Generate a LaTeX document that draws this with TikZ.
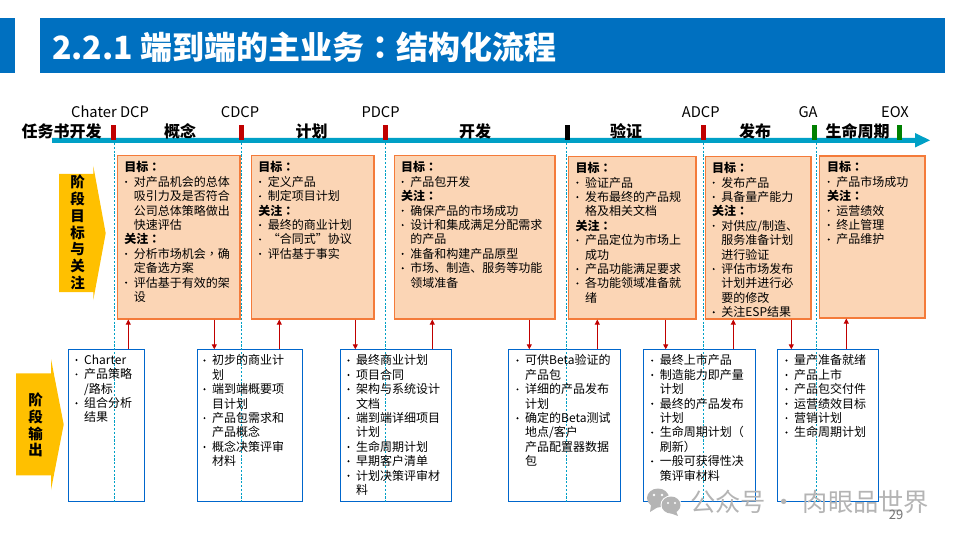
\documentclass[tikz,border=0pt]{standalone}
\usepackage{fontspec}
\setmainfont{Noto Sans CJK SC}
\newfontfamily\tcfont{Noto Sans CJK TC}
\usetikzlibrary{arrows.meta}
\definecolor{headblue}{HTML}{0070C0}
\definecolor{lineteal}{HTML}{00A0C6}
\definecolor{arrowyellow}{HTML}{FFC000}
\definecolor{goalfill}{HTML}{FBD5B5}
\definecolor{goalline}{HTML}{F47B3A}
\definecolor{outline}{HTML}{0066CC}
\definecolor{darkred}{HTML}{C00000}
\definecolor{darkgreen}{HTML}{008000}
\definecolor{markgray}{HTML}{B4B4B4}
\newcommand{\bul}{\makebox[9.4pt][l]{\hspace{0.6pt}\raisebox{2.4pt}{\tikz[baseline=-2pt]\fill (0,0) circle (1.1pt);}}}
\newcommand{\cont}{\hspace*{9.4pt}}
\newcommand{\cln}{{\tcfont ：}}
\tikzset{
  goalbox/.style={draw=goalline, fill=goalfill, line width=1.6pt, anchor=north west, inner sep=0pt},
  outbox/.style={draw=outline, line width=0.9pt, anchor=north west, inner sep=0pt},
  boxtext/.style={anchor=north west, align=left, inner sep=0pt, font=\fontsize{12}{14.4}\selectfont},
  phase/.style={font=\fontsize{16}{16}\selectfont\bfseries, inner sep=0pt},
  gate/.style={font=\fontsize{14.7}{14.7}\selectfont, inner sep=0pt},
  sidetext/.style={align=center, inner sep=0pt, font=\fontsize{14.5}{16.8}\selectfont\bfseries},
  marker/.style={minimum width=5pt, minimum height=15pt, inner sep=0pt, anchor=north},
  redarrow/.style={darkred, line width=0.9pt, -{Triangle[length=5pt, width=5pt]}},
  gateline/.style={lineteal, line width=0.7pt, dash pattern=on 2.2pt off 1.6pt}
}
\begin{document}
\begin{tikzpicture}[x=1pt, y=-1pt]
  \useasboundingbox (0,0) rectangle (960,540);
  % header
  \fill[headblue] (0,18) rectangle (15,73);
  \node[fill=headblue, minimum width=905pt, minimum height=55pt, inner sep=0pt, anchor=north west] (head) at (40,18) {};
  \node[anchor=west, text=white, inner sep=0pt, font=\fontsize{32}{32}\selectfont\bfseries] (title) at (52,47) {2.2.1 端到端的主业务{\tcfont ：}结构化流程};
  % timeline
  \fill[lineteal] (52,137.8) -- (915,137.8) -- (915,133) -- (930,140.3) -- (915,147.5) -- (915,142.8) -- (52,142.8) -- cycle;
  % markers
  \foreach \n/\x/\c in {m1/113.3/darkred, m2/241.3/darkred, m3/385.7/darkred, m4/567.3/black, m5/703.3/darkred, m6/814.3/darkgreen, m7/899.3/darkgreen}
    \node[marker, fill=\c] (\n) at (\x,125) {};
  \foreach \t/\x in {Chater DCP/110, CDCP/240, PDCP/380.6, ADCP/700.7, GA/808, EOX/895}
    \node[gate] at (\x,111.7) {\t};
  \foreach \t/\x in {任务书开发/61.5, 概念/180, 计划/311.7, 开发/475, 验证/626, 发布/755, 生命周期/857.7}
    \node[phase] at (\x,131.7) {\t};
  % side arrows
  \fill[arrowyellow] (59,174) -- (93.3,174) -- (93.3,166) -- (105.7,233.3) -- (93.3,300) -- (93.3,292) -- (59,292) -- cycle;
  \node[sidetext] (side1) at (77.7,232.5) {阶\\段\\目\\标\\与\\关\\注};
  \fill[arrowyellow] (16,373.3) -- (51,373.3) -- (51,359) -- (63.7,424.5) -- (51,490) -- (51,475.3) -- (16,475.3) -- cycle;
  \node[sidetext] (side2) at (35.7,425) {阶\\段\\输\\出};
  % goal boxes
  \foreach \n/\x/\y/\w/\h in {g1/116.7/154.7/122.6/163.3, g2/250.7/154.7/122.6/163.3, g3/393.7/154.7/160.6/163.3, g4/567.7/155.7/127.6/162.3, g5/704.7/155.7/105.3/162.3, g6/818.7/155/105.6/162}
    \node[goalbox, minimum width=\w pt, minimum height=\h pt] (\n) at (\x,\y) {};
  % output boxes
  \foreach \n/\x/\w/\h in {o1/68.3/76/151.4, o2/196.7/105.6/152, o3/340.3/111/152, o4/508.3/112/152, o5/643.3/112/152, o6/777.3/101/152}
    \node[outbox, minimum width=\w pt, minimum height=\h pt] (\n) at (\x,349.3) {};
  % stage dividers
  \foreach \x in {114.3, 241.3, 385.7, 566.7, 703.3, 816.3}
    \draw[gateline] (\x,143) -- (\x,503);
  % goal text
  \node[boxtext] (t1) at (124.2,161.4) {\textbf{目标\cln}\\\bul 对产品机会的总体\\\cont 吸引力及是否符合\\\cont 公司总体策略做出\\\cont 快速评估\\\textbf{关注\cln}\\\bul 分析市场机会{\tcfont ，}确\\\cont 定备选方案\\\bul 评估基于有效的架\\\cont 设};
  \node[boxtext] (t2) at (258.2,161.4) {\textbf{目标\cln}\\\bul 定义产品\\\bul 制定项目计划\\\textbf{关注\cln}\\\bul 最终的商业计划\\\bul “合同式”协议\\\bul 评估基于事实};
  \node[boxtext] (t3) at (400.8,161.4) {\textbf{目标\cln}\\\bul 产品包开发\\\textbf{关注\cln}\\\bul 确保产品的市场成功\\\bul 设计和集成满足分配需求\\\cont 的产品\\\bul 准备和构建产品原型\\\bul 市场、制造、服务等功能\\\cont 领域准备};
  \node[boxtext] (t4) at (575.5,162.2) {\textbf{目标\cln}\\\bul 验证产品\\\bul 发布最终的产品规\\\cont 格及相关文档\\\textbf{关注\cln}\\\bul 产品定位为市场上\\\cont 成功\\\bul 产品功能满足要求\\\bul 各功能领域准备就\\\cont 绪};
  \node[boxtext] (t5) at (711.8,162.2) {\textbf{目标\cln}\\\bul 发布产品\\\bul 具备量产能力\\\textbf{关注\cln}\\\bul 对供应/制造、\\\cont 服务准备计划\\\cont 进行验证\\\bul 评估市场发布\\\cont 计划并进行必\\\cont 要的修改\\\bul 关注ESP结果};
  \node[boxtext] (t6) at (826.8,161.4) {\textbf{目标\cln}\\\bul 产品市场成功\\\textbf{关注\cln}\\\bul 运营绩效\\\bul 终止管理\\\bul 产品维护};
  % output text
  \node[boxtext] (u1) at (74.6,354.6) {\bul Charter\\\bul 产品策略\\\cont /路标\\\bul 组合分析\\\cont 结果};
  \node[boxtext] (u2) at (202.6,354.6) {\bul 初步的商业计\\\cont 划\\\bul 端到端概要项\\\cont 目计划\\\bul 产品包需求和\\\cont 产品概念\\\bul 概念决策评审\\\cont 材料};
  \node[boxtext] (u3) at (346.6,354.6) {\bul 最终商业计划\\\bul 项目合同\\\bul 架构与系统设计\\\cont 文档\\\bul 端到端详细项目\\\cont 计划\\\bul 生命周期计划\\\bul 早期客户清单\\\bul 计划决策评审材\\\cont 料};
  \node[boxtext] (u4) at (515.6,354.6) {\bul 可供Beta验证的\\\cont 产品包\\\bul 详细的产品发布\\\cont 计划\\\bul 确定的Beta测试\\\cont 地点/客户\\\cont 产品配置器数据\\\cont 包};
  \node[boxtext] (u5) at (650.3,354.6) {\bul 最终上市产品\\\bul 制造能力即产量\\\cont 计划\\\bul 最终的产品发布\\\cont 计划\\\bul 生命周期计划（\\\cont 刷新）\\\bul 一般可获得性决\\\cont 策评审材料};
  \node[boxtext] (u6) at (784.6,354.6) {\bul 量产准备就绪\\\bul 产品上市\\\bul 产品包交付件\\\bul 运营绩效目标\\\bul 营销计划\\\bul 生命周期计划};
  % arrows between rows
  \foreach \a/\b/\x in {o1/g1/128.3, o2/g2/279.3, o3/g3/432.3, o4/g4/597.3, o5/g5/733.3, o6/g6/846.3} {
    \coordinate (ax) at (\x,330);
    \draw[redarrow] (ax |- \a.north) -- (ax |- \b.south);
  }
  \foreach \a/\b/\x in {g1/o2/214.3, g2/o3/355.3, g3/o4/529.3, g4/o5/665.7, g5/o6/791.3} {
    \coordinate (ax) at (\x,330);
    \draw[redarrow] (ax |- \a.south) -- (ax |- \b.north);
  }
  % footer
  \fill[markgray] (658,498) ellipse (11pt and 9.5pt);
  \fill[markgray] (651,505) -- (650,512) -- (658,507) -- cycle;
  \fill[white] (671,505) ellipse (10.5pt and 9.5pt);
  \fill[markgray] (671,505) ellipse (9.5pt and 8.5pt);
  \fill[markgray] (676,511) -- (678,516) -- (670,513) -- cycle;
  \foreach \x/\y/\r in {654/495/1.4, 662/495/1.4, 668/503/1.2, 675/503/1.2}
    \fill[white] (\x,\y) circle (\r pt);
  \node[anchor=west, text=markgray, inner sep=0pt, font=\fontsize{25.3}{25.3}\selectfont] (mark) at (690,502) {公众号 · 肉眼品世界};
  \node[text=black!55, inner sep=0pt, font=\fontsize{13}{13}\selectfont] (page) at (896,515) {29};
\end{tikzpicture}
\end{document}
